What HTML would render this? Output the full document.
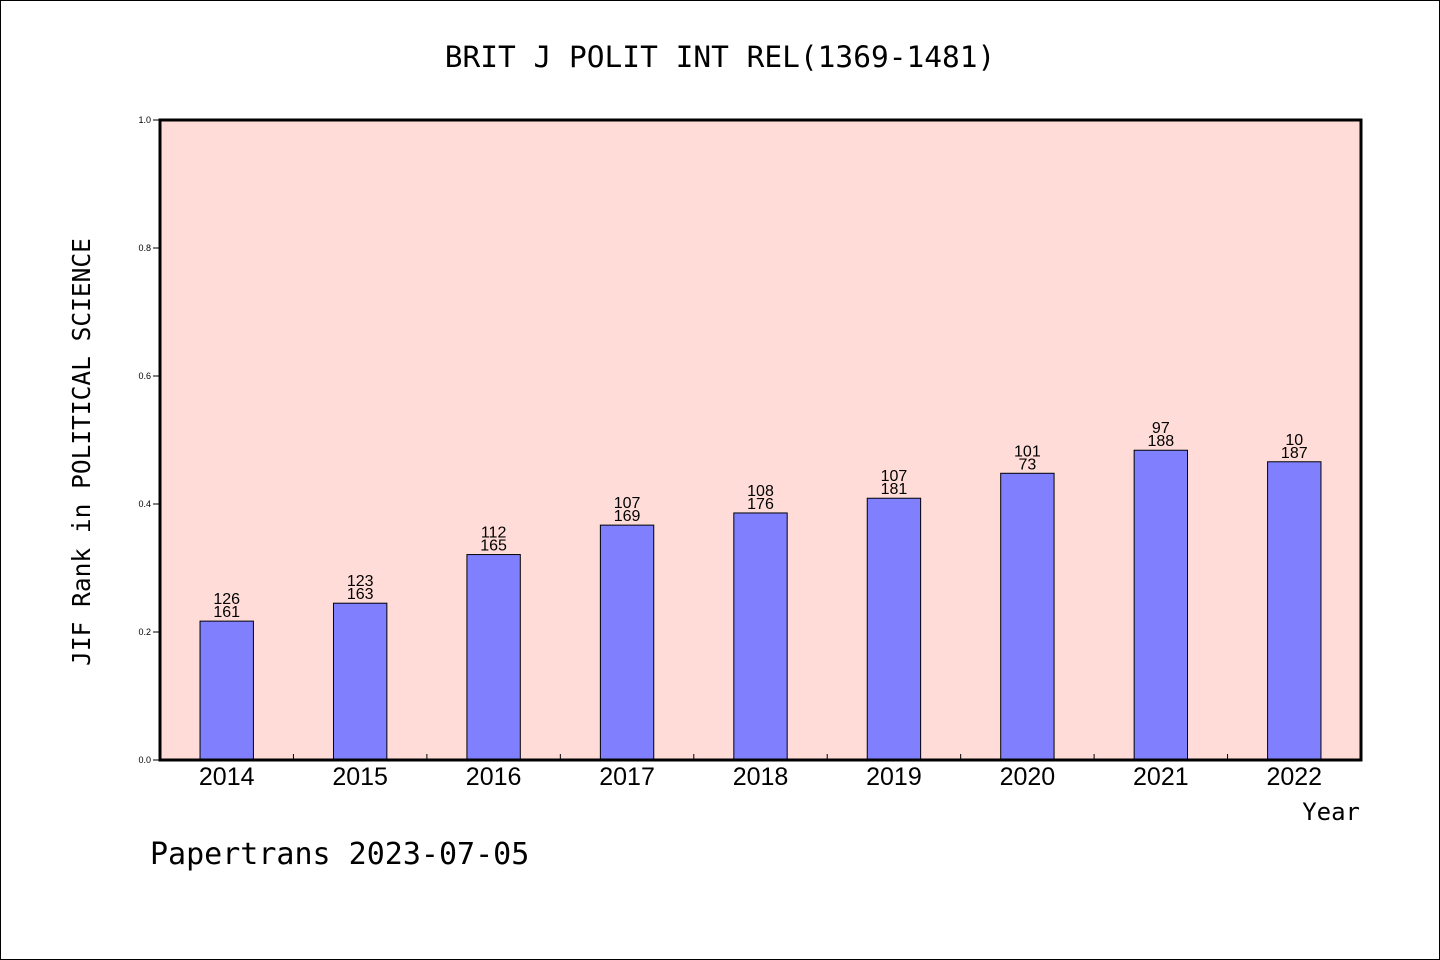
<!DOCTYPE html>
<html><head><meta charset="utf-8"><style>
html,body{margin:0;padding:0;background:#fff}
svg{display:block}
</style></head><body>
<svg id="chart" width="1440" height="960" xmlns="http://www.w3.org/2000/svg">
<rect x="0.5" y="0.5" width="1439" height="959" fill="#fff" stroke="#000"/>
<text x="720" y="67" text-anchor="middle" font-family="DejaVu Sans Mono, monospace" font-size="29.5">BRIT J POLIT INT REL(1369-1481)</text>
<rect x="160" y="120" width="1201" height="640" fill="#ffdcd8"/>
<g id="bars"></g>
<g id="axes"></g>
<rect x="160" y="120" width="1201" height="640" fill="none" stroke="#000" stroke-width="3"/>
<text transform="translate(90,452) rotate(-90)" text-anchor="middle" font-family="DejaVu Sans Mono, monospace" font-size="24.5">JIF Rank in POLITICAL SCIENCE</text>
<text x="1360" y="820" text-anchor="end" font-family="DejaVu Sans Mono, monospace" font-size="24">Year</text>
<text x="150" y="864" font-family="DejaVu Sans Mono, monospace" font-size="30">Papertrans 2023-07-05</text>
</svg>
<script>
const years = ["2014","2015","2016","2017","2018","2019","2020","2021","2022"];
const values = [0.217,0.245,0.321,0.367,0.386,0.409,0.448,0.484,0.466];
const rankLabels = ["126","123","112","107","108","107","101","97","10"];
const totalLabels = ["161","163","165","169","176","181","73","188","187"];
const yTicks = [0,0.2,0.4,0.6,0.8,1.0];
const yTickLabels = ["0.0","0.2","0.4","0.6","0.8","1.0"];

const NS="http://www.w3.org/2000/svg";
const X0=160,X1=1361,Y0=760,Y1=120;
const slot=(X1-X0)/years.length;
const xc=i=>X0+slot*(i+0.5);
const ys=v=>Y0-(Y0-Y1)*v;
function mk(tag,attrs,parent){const e=document.createElementNS(NS,tag);for(const k in attrs)e.setAttribute(k,attrs[k]);parent.appendChild(e);return e;}
const bars=document.getElementById('bars'),axes=document.getElementById('axes');
const bw=slot*0.4;
years.forEach((y,i)=>{
  const r=mk('rect',{x:xc(i)-bw/2,y:ys(values[i]),width:bw,height:Y0-ys(values[i]),fill:'#8080ff',stroke:'#000','stroke-width':1},bars);
  
  
  const t1=mk('text',{x:xc(i),y:ys(values[i])-17,'text-anchor':'middle','font-family':'Liberation Sans, sans-serif','font-size':16},bars);
  t1.textContent=rankLabels[i];
  
  
  const t2=mk('text',{x:xc(i),y:ys(values[i])-4,'text-anchor':'middle','font-family':'Liberation Sans, sans-serif','font-size':16},bars);
  t2.textContent=totalLabels[i];
  
  
  const xl=mk('text',{x:xc(i),y:785,'text-anchor':'middle','font-family':'Liberation Sans, sans-serif','font-size':25},axes);
  xl.textContent=y;
  
  
  if(i>0){
    const tk=mk('line',{x1:X0+slot*i,x2:X0+slot*i,y1:Y0,y2:Y0-6,stroke:'#000','stroke-width':1},axes);
    
    
  }
});
yTicks.forEach((v,i)=>{
  const tk=mk('line',{x1:X0-7,x2:X0,y1:ys(v),y2:ys(v),stroke:'#000','stroke-width':1},axes);
  
  
  const tl=mk('text',{x:X0-9,y:ys(v)+3,'text-anchor':'end','font-family':'Liberation Sans, sans-serif','font-size':9},axes);
  tl.textContent=yTickLabels[i];
  
  
});
</script>
</body></html>
